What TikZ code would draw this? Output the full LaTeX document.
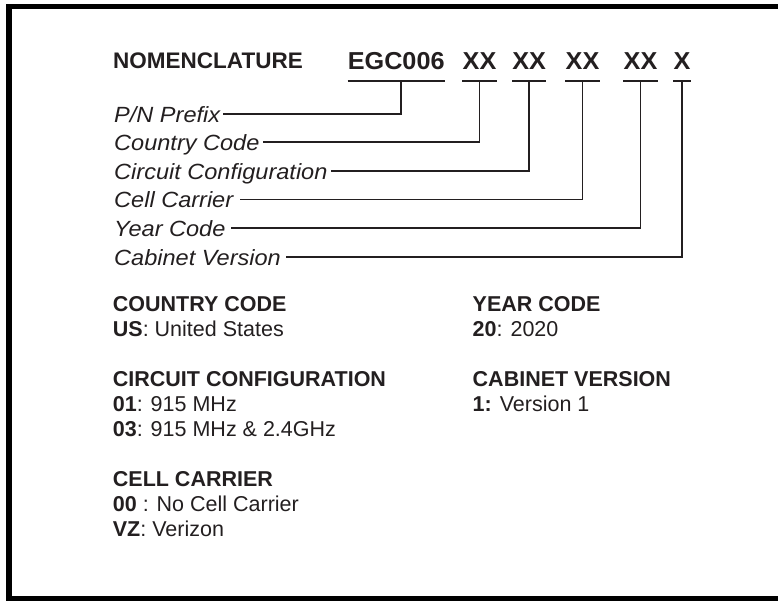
\documentclass[tikz,border=0pt]{standalone}
\usepackage{fontspec}
\setmainfont{Liberation Sans}
\newfontfamily\codefont{Liberation Sans}[FakeStretch=1.03]
\newfontfamily\labelfont{Liberation Sans}[FakeStretch=1.07]
\definecolor{ink}{RGB}{35,31,32}
\tikzset{
  code/.style={font=\codefont\bfseries\fontsize{24.5}{28}\selectfont, text=ink,
    inner sep=0pt, anchor=base, text height=17.6pt, text depth=11.4pt},
  lbl/.style={font=\labelfont\itshape\fontsize{22}{26}\selectfont, text=ink,
    inner sep=0pt, anchor=base west, text height=16.6pt, text depth=0pt},
  key/.style={font=\fontsize{21.5}{25}\selectfont, text=ink,
    inner sep=0pt, anchor=north west, align=left},
  lead/.style={draw=ink, line width=1.8pt},
}
\begin{document}
\begin{tikzpicture}[x=1pt,y=-1pt]
\useasboundingbox (0,0) rectangle (778,600);
\clip (0,0) rectangle (778,600);
\draw[line width=5.5pt] (790,6.7) -- (9,6.7) -- (9,598.7) -- (790,598.7);

\node[font=\bfseries\fontsize{22.5}{26}\selectfont, text=ink, inner sep=0pt,
  anchor=base west] (title) at (113,68.3) {NOMENCLATURE};
\node[code] (pfx) at (396.2,69.3) {EGC006};
\node[code] (cc) at (479.5,69.3) {XX};
\node[code] (cfg) at (529.2,69.3) {XX};
\node[code] (car) at (582.5,69.3) {XX};
\node[code] (yr) at (640.5,69.3) {XX};
\node[code] (ver) at (682,69.3) {X};

\foreach \n in {pfx,cc,cfg,car,yr,ver}
  \draw[lead] (\n.south west) -- (\n.south east);

\node[lbl] (lpfx) at (114,122) {P/N Prefix};
\node[lbl] (lcc) at (114,150.6) {Country Code};
\node[lbl] (lcfg) at (114,179.2) {Circuit Configuration};
\node[lbl] (lcar) at (114,207.8) {Cell Carrier};
\node[lbl] (lyr) at (114,236.4) {Year Code};
\node[lbl] (lver) at (114,265) {Cabinet Version};

\draw[lead, shorten >=3pt] ([xshift=5pt]pfx.south) |- (lpfx.east);
\draw[lead, shorten >=3pt] (cc.south) |- (lcc.east);
\draw[lead, shorten >=3pt] (cfg.south) |- (lcfg.east);
\draw[lead, shorten >=6.5pt] (car.south) |- (lcar.east);
\draw[lead, shorten >=5pt] (yr.south) |- (lyr.east);
\draw[lead, shorten >=5pt] (ver.south) |- (lver.east);

\node[key] (kcc) at (112.7,296) {\textbf{COUNTRY CODE}\\\textbf{US}: United States};
\node[key] (kcfg) at (112.7,371.3) {\textbf{CIRCUIT CONFIGURATION}\\\textbf{01}: 915 MHz\\\textbf{03}: 915 MHz \& 2.4GHz};
\node[key] (kcar) at (112.7,471.3) {\textbf{CELL CARRIER}\\\textbf{00} : No Cell Carrier\\\textbf{VZ}: Verizon};
\node[key] (kyr) at (472.5,296) {\textbf{YEAR CODE}\\\textbf{20}: 2020};
\node[key] (kver) at (472.5,371.3) {\textbf{CABINET VERSION}\\\textbf{1:} Version 1};
\end{tikzpicture}
\end{document}
